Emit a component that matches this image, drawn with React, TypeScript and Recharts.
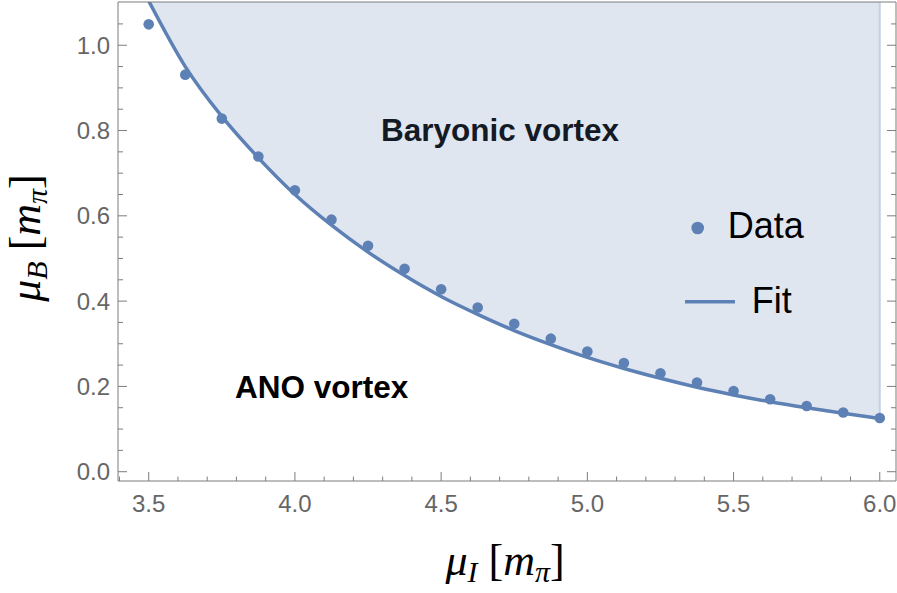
import {
  ComposedChart,
  Area,
  Line,
  Scatter,
  XAxis,
  YAxis,
  ReferenceLine,
  Legend,
} from "recharts"

// mu_I grid of the computed points
const muI = [
  3.5, 3.625, 3.75, 3.875, 4.0, 4.125, 4.25, 4.375, 4.5, 4.625, 4.75,
  4.875, 5.0, 5.125, 5.25, 5.375, 5.5, 5.625, 5.75, 5.875, 6.0,
]
// mu_B of the data points
const muBData = [
  1.049, 0.931, 0.828, 0.739, 0.66, 0.591, 0.53, 0.476, 0.428, 0.385, 0.347,
  0.312, 0.282, 0.255, 0.231, 0.209, 0.189, 0.17, 0.154, 0.139, 0.126,
]
// mu_B of the fitted curve
const muBFit = [
  1.104, 0.95, 0.833, 0.736, 0.65, 0.578, 0.515, 0.46, 0.411, 0.369, 0.331,
  0.298, 0.268, 0.242, 0.219, 0.198, 0.18, 0.164, 0.15, 0.137, 0.125,
]

const xTicks = [
  3.4, 3.5, 3.6, 3.7, 3.8, 3.9, 4.0, 4.1, 4.2, 4.3, 4.4, 4.5, 4.6, 4.7, 4.8,
  4.9, 5.0, 5.1, 5.2, 5.3, 5.4, 5.5, 5.6, 5.7, 5.8, 5.9, 6.0,
]
const xLabels = ["3.5", "4.0", "4.5", "5.0", "5.5", "6.0"]
const yTicks = [
  0, 0.05, 0.1, 0.15, 0.2, 0.25, 0.3, 0.35, 0.4, 0.45, 0.5, 0.55, 0.6, 0.65,
  0.7, 0.75, 0.8, 0.85, 0.9, 0.95, 1.0, 1.05,
]
const yLabels = ["0.0", "0.2", "0.4", "0.6", "0.8", "1.0"]

const xDomain: [number, number] = [3.395, 6.0555]
const yDomain: [number, number] = [-0.0218, 1.1014]
const bandTop = 1.2

const blue = "#5e81b5"
const frame = "#7d7d7d"
const tickText = "#666666"
const sans = "'Liberation Sans', Arial, sans-serif"
const serif = "'Liberation Serif', 'Times New Roman', serif"

const pointRows = muI.map((x, i) => ({ x, y: muBData[i] }))
const fitRows = muI.map((x, i) => ({ x, fit: muBFit[i], band: [muBFit[i], bandTop] }))

const isLabel = (labels: string[], v: number) => labels.includes(v.toFixed(1)) && Math.abs(v * 10 - Math.round(v * 10)) < 1e-6

function BottomTick({ x, y, payload }: any) {
  const v = payload.value
  const major = isLabel(xLabels, v)
  return (
    <g>
      <line x1={x} x2={x} y1={y} y2={y - (major ? 9 : 4.5)} stroke={frame} />
      {major && (
        <text x={x} y={y + 30.5} textAnchor="middle" fill={tickText} fontSize={24} fontFamily={sans}>
          {v.toFixed(1)}
        </text>
      )}
    </g>
  )
}

function TopTick({ x, y, payload }: any) {
  const major = isLabel(xLabels, payload.value)
  return <line x1={x} x2={x} y1={y} y2={y + (major ? 9 : 4.5)} stroke={frame} />
}

function LeftTick({ x, y, payload }: any) {
  const v = payload.value
  const major = isLabel(yLabels, v)
  return (
    <g>
      <line x1={x} x2={x + (major ? 9 : 5)} y1={y} y2={y} stroke={frame} />
      {major && (
        <text x={x - 8} y={y + 8.5} textAnchor="end" fill={tickText} fontSize={24} fontFamily={sans}>
          {v.toFixed(1)}
        </text>
      )}
    </g>
  )
}

function RightTick({ x, y, payload }: any) {
  const major = isLabel(yLabels, payload.value)
  return <line x1={x} x2={x - (major ? 9 : 5)} y1={y} y2={y} stroke={frame} />
}

function LegendBox() {
  return (
    <svg width={150} height={130} style={{ display: "block" }}>
      <circle cx={17.7} cy={28} r={6.3} fill={blue} />
      <text x={47.7} y={38.3} fontSize={36} fontFamily={sans} fill="#000">
        Data
      </text>
      <line x1={5} x2={55} y1={101.7} y2={101.7} stroke={blue} strokeWidth={3.5} />
      <text x={71.7} y={112.7} fontSize={36} fontFamily={sans} fill="#000">
        Fit
      </text>
    </svg>
  )
}

export default function App() {
  const last = muI.length - 1
  return (
    <div style={{ position: "absolute", left: 0, top: 0, width: 897, height: 593, background: "#fff" }}>
      <ComposedChart width={897} height={593} margin={{ top: 1, right: 0, bottom: 0, left: 0 }}>
        <XAxis
          xAxisId="b"
          dataKey="x"
          type="number"
          domain={xDomain}
          allowDataOverflow
          ticks={xTicks}
          interval={0}
          height={112}
          tickSize={0}
          tickMargin={0}
          tickLine={false}
          tick={<BottomTick />}
          axisLine={{ stroke: frame }}
        />
        <XAxis
          xAxisId="t"
          orientation="top"
          type="number"
          domain={xDomain}
          allowDataOverflow
          ticks={xTicks}
          interval={0}
          height={1}
          tickSize={0}
          tickMargin={0}
          tickLine={false}
          tick={<TopTick />}
          axisLine={{ stroke: frame }}
        />
        <YAxis
          yAxisId="l"
          type="number"
          domain={yDomain}
          allowDataOverflow
          ticks={yTicks}
          interval={0}
          width={118}
          tickSize={0}
          tickMargin={0}
          tickLine={false}
          tick={<LeftTick />}
          axisLine={{ stroke: frame }}
        />
        <YAxis
          yAxisId="r"
          orientation="right"
          type="number"
          domain={yDomain}
          allowDataOverflow
          ticks={yTicks}
          interval={0}
          width={1}
          tickSize={0}
          tickMargin={0}
          tickLine={false}
          tick={<RightTick />}
          axisLine={{ stroke: frame }}
        />

        <Area
          xAxisId="b"
          yAxisId="l"
          data={fitRows}
          dataKey="band"
          type="monotone"
          stroke="none"
          fill={blue}
          fillOpacity={0.2}
          isAnimationActive={false}
        />
        <ReferenceLine
          xAxisId="b"
          yAxisId="l"
          segment={[
            { x: muI[last], y: muBFit[last] },
            { x: muI[last], y: yDomain[1] },
          ]}
          stroke="#c6d0e4"
          strokeWidth={2}
        />
        <Line
          xAxisId="b"
          yAxisId="l"
          data={fitRows}
          dataKey="fit"
          type="monotone"
          stroke={blue}
          strokeWidth={3.5}
          dot={false}
          isAnimationActive={false}
        />
        <Scatter
          xAxisId="b"
          yAxisId="l"
          data={pointRows}
          dataKey="y"
          fill={blue}
          shape={(p: any) => <circle cx={p.cx} cy={p.cy} r={5.3} fill={blue} />}
          isAnimationActive={false}
        />

        <Legend
          layout="vertical"
          align="center"
          verticalAlign="middle"
          wrapperStyle={{ left: 680, top: 200, width: 150, height: 130 }}
          content={() => <LegendBox />}
        />

        <text x={381} y={140.7} fontSize={31.5} fontWeight="bold" fontFamily={sans} fill="#000">
          Baryonic vortex
        </text>
        <text x={235} y={397.7} fontSize={31.5} fontWeight="bold" fontFamily={sans} fill="#000">
          ANO vortex
        </text>

        <text x={505} y={575} textAnchor="middle" fontSize={44} fontFamily={serif} fill="#000">
          <tspan fontStyle="italic">μ</tspan>
          <tspan fontStyle="italic" fontSize={30} dy={7}>I</tspan>
          <tspan dy={-7}> [</tspan>
          <tspan fontStyle="italic">m</tspan>
          <tspan fontStyle="italic" fontSize={30} dy={7}>π</tspan>
          <tspan dy={-7}>]</tspan>
        </text>
        <text
          x={40}
          y={238}
          transform="rotate(-90 40 238)"
          textAnchor="middle"
          fontSize={44}
          fontFamily={serif}
          fill="#000"
        >
          <tspan fontStyle="italic">μ</tspan>
          <tspan fontStyle="italic" fontSize={30} dy={7}>B</tspan>
          <tspan dy={-7}> [</tspan>
          <tspan fontStyle="italic">m</tspan>
          <tspan fontStyle="italic" fontSize={30} dy={7}>π</tspan>
          <tspan dy={-7}>]</tspan>
        </text>
      </ComposedChart>
    </div>
  )
}
